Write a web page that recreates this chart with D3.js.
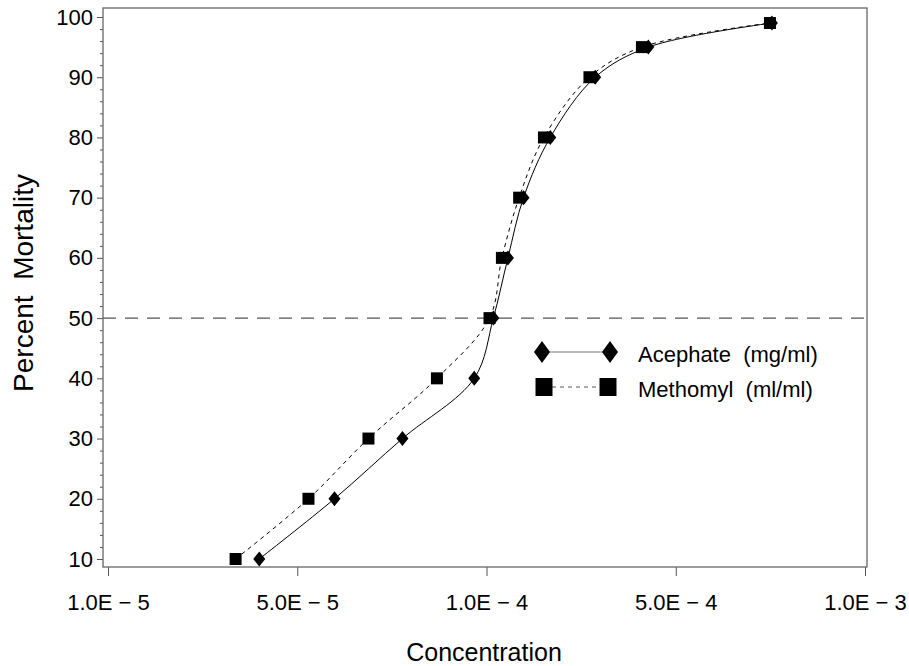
<!DOCTYPE html>
<html lang="en">
<head>
    <meta charset="UTF-8">
    <title>Percent Mortality vs Concentration</title>
    <script src="https://d3js.org/d3.v7.min.js"></script>
    <style>
        body { margin: 0; background: #fff; }
        svg { display: block; font-family: "Liberation Sans", Arial, sans-serif; }
        .frame { fill: none; stroke: #666; stroke-width: 1.3px; }
        .axis text { font-size: 22px; fill: #000; }
        .axis line { stroke: #555; }
        .ref { stroke: #555; stroke-dasharray: 13 9; stroke-width: 1.2px; }
        .acephate { fill: none; stroke: #000; stroke-width: 1px; }
        .methomyl { fill: none; stroke: #000; stroke-width: 1px; stroke-dasharray: 4 4; }
        .legend text { font-size: 22px; }
    </style>
</head>
<body>
    <svg width="909" height="666"></svg>
    <script>
        const width = 909;
        const height = 666;

        // Data
        const mortality = [10, 20, 30, 40, 50, 60, 70, 80, 90, 95, 99];
        const acephateConc = [3.62e-5, 5.73e-5, 7.35e-5, 9.56e-5, 1.06e-4, 1.20e-4, 1.37e-4, 1.72e-4, 2.52e-4, 3.96e-4, 7.11e-4];
        const methomylConc = [2.96e-5, 5.21e-5, 6.49e-5, 8.34e-5, 1.026e-4, 1.14e-4, 1.32e-4, 1.63e-4, 2.40e-4, 3.75e-4, 7.06e-4];

        const xTicks = [1e-5, 5e-5, 1e-4, 5e-4, 1e-3];
        const xTickLabels = ["1.0E \u2212 5", "5.0E \u2212 5", "1.0E \u2212 4", "5.0E \u2212 4", "1.0E \u2212 3"];
        const yTicks = [10, 20, 30, 40, 50, 60, 70, 80, 90, 100];
        const yMinor = d3.range(12, 100, 2).filter(v => v % 10 !== 0);

        const seriesNames = ["Acephate  (mg/ml)", "Methomyl  (ml/ml)"];

        // plot frame
        const plotLeft = 103, plotRight = 867, plotTop = 8, plotBottom = 567;

        const svg = d3.select("svg");

        // ticks are evenly spaced on the page, so a piecewise log scale
        const x = d3.scaleLog()
            .domain(xTicks)
            .range(xTicks.map((d, i) => 108 + i * (865 - 108) / (xTicks.length - 1)));

        const y = d3.scaleLinear()
            .domain([10, 100])
            .range([559, 17]);

        // 50% reference line
        svg.append("line")
            .attr("class", "ref")
            .attr("x1", plotLeft).attr("x2", plotRight)
            .attr("y1", y(50)).attr("y2", y(50));

        // axes
        const xAxis = svg.append("g")
            .attr("class", "axis")
            .attr("transform", `translate(0,${plotBottom})`)
            .call(d3.axisBottom(x).tickValues(xTicks).tickFormat((d, i) => xTickLabels[i]).tickSize(9));
        xAxis.select(".domain").remove();
        xAxis.selectAll("text").attr("y", 43).attr("dy", 0);

        const yAxis = svg.append("g")
            .attr("class", "axis")
            .attr("transform", `translate(${plotLeft},0)`)
            .call(d3.axisLeft(y).tickValues(yTicks).tickSize(6).tickPadding(4));
        yAxis.select(".domain").remove();

        const yMinorAxis = svg.append("g")
            .attr("class", "axis")
            .attr("transform", `translate(${plotLeft},0)`)
            .call(d3.axisLeft(y).tickValues(yMinor).tickSize(3).tickFormat(""));
        yMinorAxis.select(".domain").remove();

        svg.append("rect")
            .attr("class", "frame")
            .attr("x", plotLeft).attr("y", plotTop)
            .attr("width", plotRight - plotLeft).attr("height", plotBottom - plotTop);

        // curves
        const line = d3.line()
            .x(d => x(d[0]))
            .y(d => y(d[1]))
            .curve(d3.curveCatmullRom.alpha(0.5));

        const acephate = acephateConc.map((c, i) => [c, mortality[i]]);
        const methomyl = methomylConc.map((c, i) => [c, mortality[i]]);

        svg.append("path").attr("class", "acephate").attr("d", line(acephate));
        svg.append("path").attr("class", "methomyl").attr("d", line(methomyl));

        function diamond(w, h) {
            return `M0,${-h / 2}L${w / 2},0L0,${h / 2}L${-w / 2},0Z`;
        }
        function square(w, h) {
            return `M${-w / 2},${-h / 2}h${w}v${h}h${-w}Z`;
        }

        svg.append("g").selectAll("path")
            .data(methomyl)
            .enter().append("path")
            .attr("transform", d => `translate(${x(d[0])},${y(d[1])})`)
            .attr("d", square(12, 12))
            .attr("fill", "#000");

        svg.append("g").selectAll("path")
            .data(acephate)
            .enter().append("path")
            .attr("transform", d => `translate(${x(d[0])},${y(d[1])})`)
            .attr("d", diamond(12, 15))
            .attr("fill", "#000");

        // legend
        const legend = svg.append("g").attr("class", "legend");
        legend.append("line")
            .attr("x1", 542).attr("x2", 610).attr("y1", 352).attr("y2", 352)
            .attr("stroke", "#777").attr("stroke-width", 1.2);
        legend.append("line")
            .attr("x1", 544).attr("x2", 608).attr("y1", 387).attr("y2", 387)
            .attr("stroke", "#555").attr("stroke-dasharray", "4 4");
        [542, 610].forEach(cx => {
            legend.append("path").attr("transform", `translate(${cx},352)`).attr("d", diamond(16, 22));
            legend.append("path").attr("transform", `translate(${cx === 542 ? 544 : 608},387)`).attr("d", square(17, 18));
        });
        legend.selectAll("text")
            .data(seriesNames)
            .enter().append("text")
            .attr("x", 638)
            .attr("y", (d, i) => 362 + i * 35)
            .style("white-space", "pre")
            .text(d => d);

        // axis titles
        svg.append("text")
            .attr("x", (plotLeft + plotRight) / 2 - 1)
            .attr("y", 661)
            .attr("text-anchor", "middle")
            .style("font-size", "25px")
            .text("Concentration");

        svg.append("text")
            .attr("transform", "translate(33,283) rotate(-90)")
            .attr("text-anchor", "middle")
            .style("font-size", "28px")
            .style("white-space", "pre")
            .text("Percent  Mortality");
    </script>
</body>
</html>
